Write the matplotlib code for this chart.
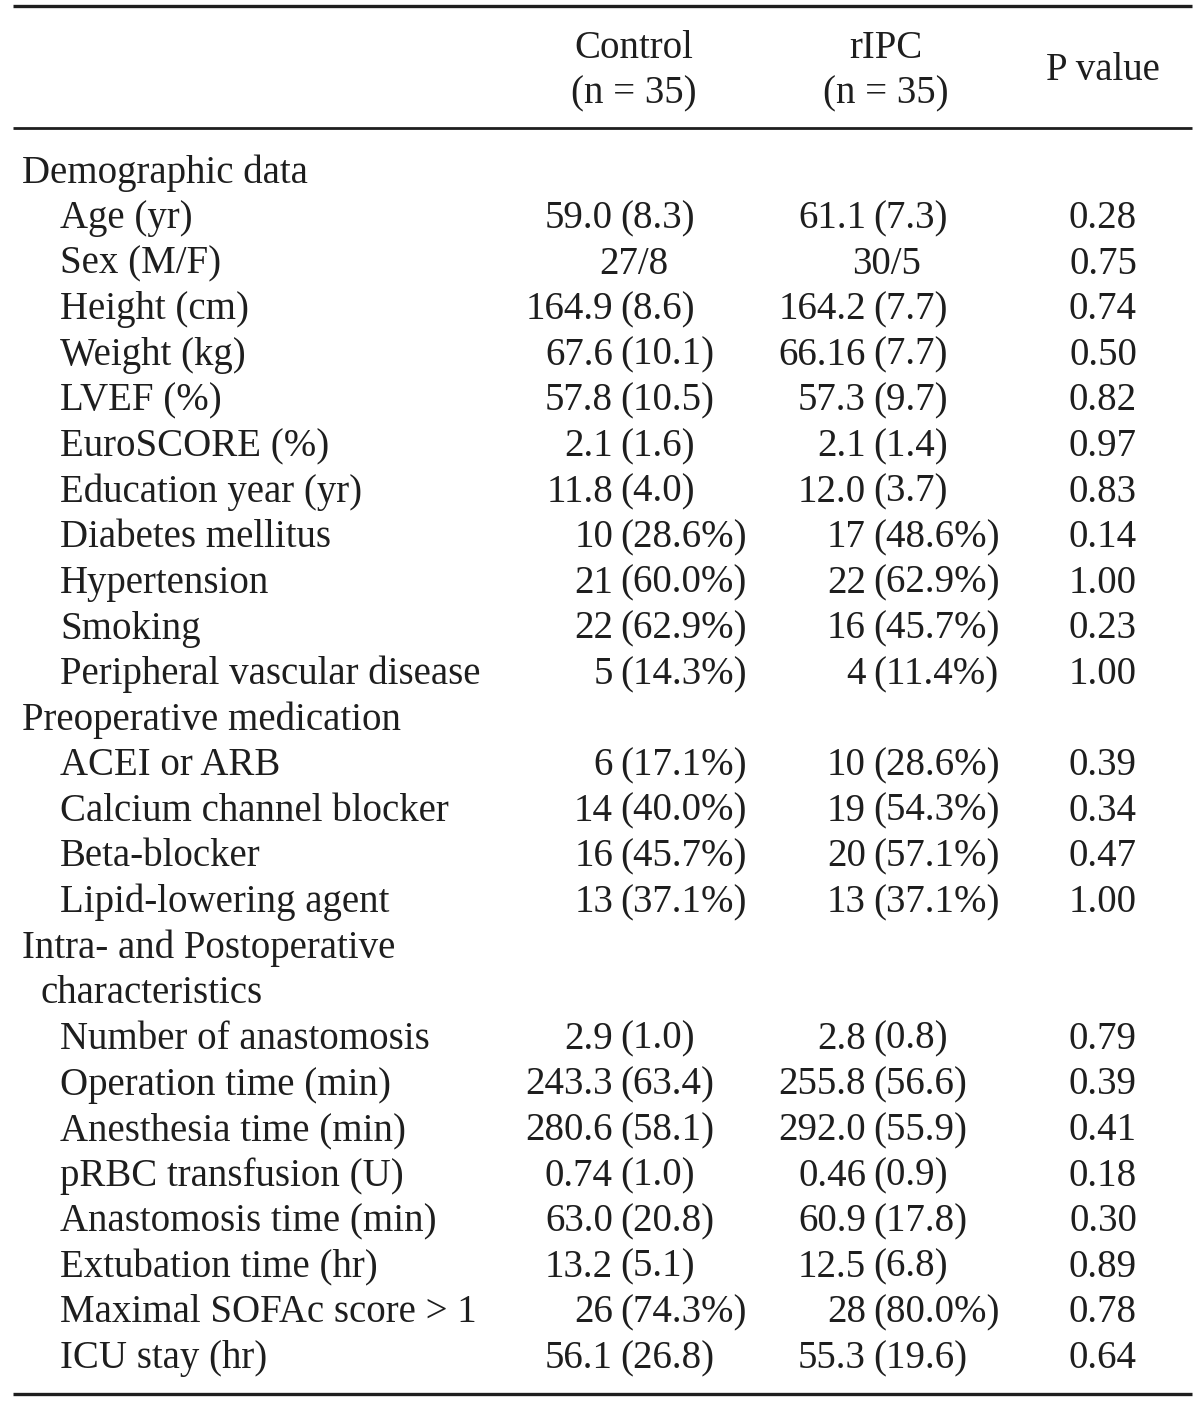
import matplotlib.pyplot as plt

# ================================================================================
# table rows: (label, indent level) ; level 0 = section, 1 = item, 2 = wrapped section
row_labels = [
    "Demographic data", "Age (yr)", "Sex (M/F)", "Height (cm)", "Weight (kg)",
    "LVEF (%)", "EuroSCORE (%)", "Education year (yr)", "Diabetes mellitus",
    "Hypertension", "Smoking", "Peripheral vascular disease",
    "Preoperative medication", "ACEI or ARB", "Calcium channel blocker",
    "Beta-blocker", "Lipid-lowering agent",
    "Intra- and Postoperative", "characteristics",
    "Number of anastomosis", "Operation time (min)", "Anesthesia time (min)",
    "pRBC transfusion (U)", "Anastomosis time (min)", "Extubation time (hr)",
    "Maximal SOFAc score > 1", "ICU stay (hr)",
]
row_levels = [0, 1, 1, 1, 1, 1, 1, 1, 1, 1, 1, 1,
              0, 1, 1, 1, 1,
              0, 2,
              1, 1, 1, 1, 1, 1, 1, 1]

control_vals = [
    "", "59.0 (8.3)", "27/8", "164.9 (8.6)", "67.6 (10.1)", "57.8 (10.5)",
    "2.1 (1.6)", "11.8 (4.0)", "10 (28.6%)", "21 (60.0%)", "22 (62.9%)",
    "5 (14.3%)",
    "", "6 (17.1%)", "14 (40.0%)", "16 (45.7%)", "13 (37.1%)",
    "", "",
    "2.9 (1.0)", "243.3 (63.4)", "280.6 (58.1)", "0.74 (1.0)", "63.0 (20.8)",
    "13.2 (5.1)", "26 (74.3%)", "56.1 (26.8)",
]
ripc_vals = [
    "", "61.1 (7.3)", "30/5", "164.2 (7.7)", "66.16 (7.7)", "57.3 (9.7)",
    "2.1 (1.4)", "12.0 (3.7)", "17 (48.6%)", "22 (62.9%)", "16 (45.7%)",
    "4 (11.4%)",
    "", "10 (28.6%)", "19 (54.3%)", "20 (57.1%)", "13 (37.1%)",
    "", "",
    "2.8 (0.8)", "255.8 (56.6)", "292.0 (55.9)", "0.46 (0.9)", "60.9 (17.8)",
    "12.5 (6.8)", "28 (80.0%)", "55.3 (19.6)",
]
p_vals = [
    "", "0.28", "0.75", "0.74", "0.50", "0.82", "0.97", "0.83", "0.14", "1.00",
    "0.23", "1.00",
    "", "0.39", "0.34", "0.47", "1.00",
    "", "",
    "0.79", "0.39", "0.41", "0.18", "0.30", "0.89", "0.78", "0.64",
]
header_cols = ["Control\n(n = 35)", "rIPC\n(n = 35)", "P value"]

# ================================================================================
plt.rcParams['font.family'] = ['Liberation Serif', 'DejaVu Serif']
txt_color = "#1e1e1e"
fs = 28

fig = plt.figure(figsize=(12, 14.03), dpi=100)
ax = fig.add_axes([0, 0, 1, 1])
ax.set_xlim(0, 1200)
ax.set_ylim(1403, 0)
ax.axis("off")

# rules
for y, lw in [(6, 2.4), (128, 2.0), (1394, 2.4)]:
    ax.plot([13, 1192], [y, y], color=txt_color, lw=lw, solid_capstyle="butt")

# header
col_centers = [634, 886, 1103]
for cx, h in zip(col_centers, header_cols):
    lines = h.split("\n")
    if len(lines) == 2:
        ax.text(cx, 48, lines[0], ha="center", va="center", fontsize=fs, color=txt_color)
        ax.text(cx, 94, lines[1], ha="center", va="center", fontsize=fs, color=txt_color)
    else:
        ax.text(cx, 70, lines[0], ha="center", va="center", fontsize=fs, color=txt_color)

# body
indent_x = {0: 22, 1: 60, 2: 41}
paren_x = [620, 873]   # where "(" starts in each value column
y0, dy = 173, 45.6

def put_value(x_split, center_x, y, s):
    if not s:
        return
    if " " in s:
        first, rest = s.split(" ", 1)
        ax.text(x_split - 7, y, first, ha="right", va="center", fontsize=fs, color=txt_color)
        ax.text(x_split, y, rest, ha="left", va="center", fontsize=fs, color=txt_color)
    else:
        ax.text(center_x, y, s, ha="center", va="center", fontsize=fs, color=txt_color)

for i, (lab, lev) in enumerate(zip(row_labels, row_levels)):
    y = y0 + dy * i
    ax.text(indent_x[lev], y, lab, ha="left", va="center", fontsize=fs, color=txt_color)
    put_value(paren_x[0], col_centers[0], y, control_vals[i])
    put_value(paren_x[1], col_centers[1], y, ripc_vals[i])
    if p_vals[i]:
        ax.text(col_centers[2], y, p_vals[i], ha="center", va="center", fontsize=fs, color=txt_color)

fig.savefig("out.png", dpi=100, facecolor="white")
